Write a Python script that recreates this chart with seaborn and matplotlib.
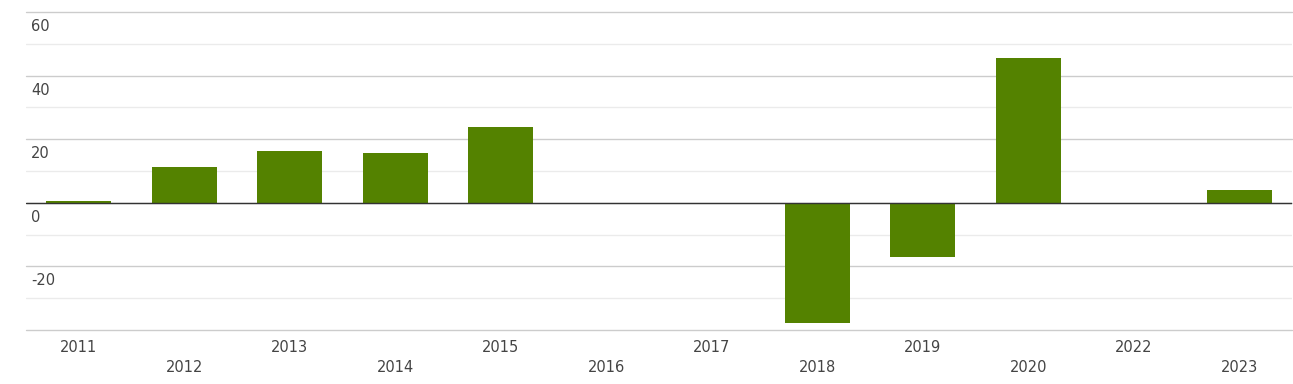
import pandas as pd
import seaborn as sns
import matplotlib.pyplot as plt

# values
years = ["2011", "2012", "2013", "2014", "2015", "2016", "2017",
         "2018", "2019", "2020", "2022", "2023"]
values = [0.7, 11.4, 16.4, 15.6, 23.7, 0.0, 0.0,
          -37.7, -17.2, 45.4, 0.0, 4.0]
major_ticks = [-40, -20, 0, 20, 40, 60]
minor_ticks = [-30, -10, 10, 30, 50]
ytick_labels = ["", "-20", "0", "20", "40", "60"]

bar_color = "#548200"
text_color = "#444444"

df = pd.DataFrame({"year": years, "value": values})

sns.set_style("white")
plt.rcParams["font.family"] = ["DejaVu Sans"]

fig = plt.figure(figsize=(12.93, 3.84), dpi=100)
ax = fig.add_axes([26 / 1293, 54 / 384, 1266 / 1293, 318 / 384])

sns.barplot(data=df, x="year", y="value", color=bar_color, width=0.62,
            saturation=1, linewidth=0, ax=ax, zorder=3)

ax.set_xlim(-0.5, len(years) - 0.5)
ax.set_ylim(-40, 60)

# grid lines
for v in minor_ticks:
    ax.axhline(v, color="#ebebeb", lw=1, zorder=1)
for v in major_ticks:
    ax.axhline(v, color="#cccccc", lw=1, zorder=1, clip_on=False)
ax.axhline(0, color="#333333", lw=1, zorder=4)

for s in ax.spines.values():
    s.set_visible(False)

# y labels sit just under their grid line, inside the plot
ax.set_yticks([])
for v, lab in zip(major_ticks, ytick_labels):
    ax.annotate(lab, xy=(0, v), xycoords=("axes fraction", "data"),
                xytext=(3.5, -5), textcoords="offset points",
                ha="left", va="top", fontsize=10.5, color=text_color)

# x labels alternate on two rows
ax.set_xticks(range(len(years)))
ax.set_xticklabels([y if i % 2 == 0 else "\n" + y for i, y in enumerate(years)],
                   fontsize=10.5, color=text_color, linespacing=1.4)
ax.tick_params(axis="x", length=0, pad=7.5)
ax.set_xlabel("")
ax.set_ylabel("")

fig.savefig("out.png", dpi=100)
